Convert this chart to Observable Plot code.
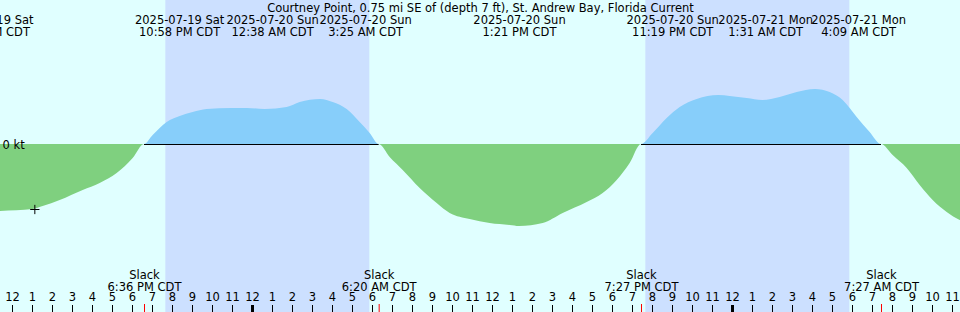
<!DOCTYPE html>
<html><head><meta charset="utf-8">
<script src="https://cdn.jsdelivr.net/npm/d3@7"></script>
<script src="https://cdn.jsdelivr.net/npm/@observablehq/plot@0.6"></script>
<style>html,body{margin:0;padding:0;background:#e0ffff;} #chart svg{display:block}</style>
</head><body><div id="chart"></div>
<script>
const title = "Courtney Point, 0.75 mi SE of (depth 7 ft), St. Andrew Bay, Florida Current";

// current speed (kt), positive = flood, negative = ebb; times CDT
const curveTimes = [
  "2025-07-19T10:30","2025-07-19T10:49","2025-07-19T11:22","2025-07-19T13:02","2025-07-19T13:32","2025-07-19T14:23",
  "2025-07-19T15:32","2025-07-19T16:23","2025-07-19T17:14","2025-07-19T18:02","2025-07-19T18:36",
  "2025-07-19T19:02","2025-07-19T19:44","2025-07-19T20:23","2025-07-19T21:02","2025-07-19T21:44","2025-07-19T22:58",
  "2025-07-19T23:44","2025-07-20T00:38","2025-07-20T01:44","2025-07-20T02:23","2025-07-20T03:25","2025-07-20T04:02",
  "2025-07-20T04:44","2025-07-20T05:23","2025-07-20T05:53","2025-07-20T06:20",
  "2025-07-20T06:53","2025-07-20T07:32","2025-07-20T08:23","2025-07-20T09:14","2025-07-20T09:53","2025-07-20T10:53",
  "2025-07-20T11:53","2025-07-20T12:53","2025-07-20T13:21","2025-07-20T14:32","2025-07-20T15:32","2025-07-20T16:44",
  "2025-07-20T17:32","2025-07-20T18:14","2025-07-20T18:53","2025-07-20T19:27",
  "2025-07-20T20:02","2025-07-20T20:44","2025-07-20T21:23","2025-07-20T22:14","2025-07-20T23:19","2025-07-20T23:53",
  "2025-07-21T00:44","2025-07-21T01:31","2025-07-21T02:23","2025-07-21T03:14","2025-07-21T04:09","2025-07-21T04:53",
  "2025-07-21T05:32","2025-07-21T06:14","2025-07-21T06:53","2025-07-21T07:27",
  "2025-07-21T08:02","2025-07-21T08:44","2025-07-21T09:23","2025-07-21T10:02","2025-07-21T10:44","2025-07-21T11:23","2025-07-21T11:45"
];
const curveKnots = [
  -0.68,-0.68,-0.67,-0.65,-0.62,-0.56,
  -0.46,-0.39,-0.29,-0.14,0,
  0.09,0.22,0.28,0.32,0.35,0.36,
  0.36,0.35,0.37,0.42,0.45,0.42,
  0.35,0.22,0.11,0,
  -0.13,-0.26,-0.44,-0.59,-0.69,-0.75,
  -0.79,-0.81,-0.82,-0.79,-0.69,-0.58,
  -0.49,-0.36,-0.19,0,
  0.11,0.26,0.37,0.45,0.49,0.48,
  0.46,0.44,0.47,0.52,0.55,0.52,
  0.44,0.27,0.12,0,
  -0.11,-0.24,-0.41,-0.56,-0.68,-0.76,-0.79
];

// max flood / ebb events (top labels)
const eventTimes = ["2025-07-19T10:49","2025-07-19T22:58","2025-07-20T00:38","2025-07-20T03:25",
                    "2025-07-20T13:21","2025-07-20T23:19","2025-07-21T01:31","2025-07-21T04:09"];
const eventDates = ["2025-07-19 Sat","2025-07-19 Sat","2025-07-20 Sun","2025-07-20 Sun",
                    "2025-07-20 Sun","2025-07-20 Sun","2025-07-21 Mon","2025-07-21 Mon"];
const eventClock = ["10:49 AM CDT","10:58 PM CDT","12:38 AM CDT","3:25 AM CDT",
                    "1:21 PM CDT","11:19 PM CDT","1:31 AM CDT","4:09 AM CDT"];

// slack water
const slackTimes = ["2025-07-19T18:36","2025-07-20T06:20","2025-07-20T19:27","2025-07-21T07:27"];
const slackClock = ["6:36 PM CDT","6:20 AM CDT","7:27 PM CDT","7:27 AM CDT"];

// night (sunset -> sunrise)
const sunsetTimes = ["2025-07-19T19:40","2025-07-20T19:40"];
const sunriseTimes = ["2025-07-20T05:52","2025-07-21T05:52"];

// marker on the curve
const markerTime = ["2025-07-19T13:07"];
const markerKnots = [-0.65];

// hourly tick labels, starting 2025-07-19 12:00 (noon)
const tickLabels = ["12","1","2","3","4","5","6","7","8","9","10","11",
                    "12","1","2","3","4","5","6","7","8","9","10","11",
                    "12","1","2","3","4","5","6","7","8","9","10","11",
                    "12","1","2","3","4","5","6","7","8","9","10","11"];
const midnightTimes = ["2025-07-20T00:00","2025-07-21T00:00"];
const viewStart = "2025-07-19T11:24", viewEnd = "2025-07-21T11:24";

const T0 = Date.UTC(2025, 6, 19, 12);
const hrs = s => (Date.parse(s + ":00Z") - T0) / 3.6e6;

const curve = curveTimes.map((t, i) => ({h: hrs(t), v: curveKnots[i]}));
const nights = sunsetTimes.map((t, i) => ({a: hrs(t), b: hrs(sunriseTimes[i])}));
const slacks = slackTimes.map((t, i) => ({h: hrs(t), text: "Slack\n" + slackClock[i]}));
const marker = markerTime.map((t, i) => ({h: hrs(t), v: markerKnots[i]}));
const hourTicks = tickLabels.map((l, i) => ({h: i, label: l}));
const midnights = midnightTimes.map(hrs);

// flood intervals (between consecutive slacks where the current is positive)
const floods = [];
for (let i = 0; i + 1 < slacks.length; i++) {
  const a = slacks[i].h, b = slacks[i + 1].h;
  const mid = d3.mean(curve.filter(d => d.h > a && d.h < b), d => d.v);
  if (mid > 0) floods.push({a, b});
}

// label layout: spread clustered labels evenly around the cluster mean
const SP = 4.65;
const events = eventTimes.map((t, i) => ({h: hrs(t), text: eventDates[i] + "\n" + eventClock[i]}));
const clusters = [];
for (const e of events) {
  const last = clusters[clusters.length - 1];
  if (last && e.h - last[last.length - 1].h < SP) last.push(e); else clusters.push([e]);
}
for (const c of clusters) {
  const m = d3.mean(c, d => d.h);
  c.forEach((e, j) => e.lx = m + (j - (c.length - 1) / 2) * SP);
}

const blue = "#87cefa", green = "#7fd07f", night = "#cce0ff";
const fs = 11.5;

const chart = Plot.plot({
  width: 960, height: 312, margin: 0,
  x: {domain: [hrs(viewStart), hrs(viewEnd)], axis: null},
  y: {domain: [-1.68, 1.44], axis: null},
  style: {background: "#e0ffff", fontFamily: "DejaVu Sans", fontSize: fs + "px"},
  marks: [
    Plot.rect(nights, {x1: "a", x2: "b", fill: night}),
    Plot.areaY(curve, {x: "h", y1: 0, y2: d => Math.max(0, d.v), fill: blue, curve: "monotone-x"}),
    Plot.areaY(curve, {x: "h", y1: 0, y2: d => Math.min(0, d.v), fill: green, curve: "monotone-x"}),
    Plot.ruleY(floods, {y: 0, x1: "a", x2: "b", stroke: "black"}),
    Plot.dot(marker, {x: "h", y: "v", symbol: "plus", r: 3.1, stroke: "black", strokeWidth: 1}),
    Plot.text(["0 kt"], {y: [0], text: d => d, frameAnchor: "left", textAnchor: "start", lineAnchor: "bottom", dx: 2, dy: 4.5, fontSize: fs, fill: "black"}),
    Plot.ruleX(hourTicks, {x: "h", insetTop: 305, stroke: "black"}),
    Plot.ruleX(midnights, {x: d => d, insetTop: 305, stroke: "black", strokeWidth: 3}),
    Plot.ruleX(slacks, {x: "h", insetTop: 304, stroke: "red"}),
    Plot.text(hourTicks, {x: "h", text: "label", frameAnchor: "bottom", lineAnchor: "bottom", dy: -11.3, fontSize: fs, fill: "black"}),
    Plot.text(slacks, {x: "h", text: "text", frameAnchor: "bottom", lineAnchor: "bottom", dy: -22, lineHeight: 1.04, fontSize: fs, fill: "black"}),
    Plot.text(events, {x: "lx", text: "text", frameAnchor: "top", lineAnchor: "bottom", dy: 35, lineHeight: 1.02, fontSize: fs, fill: "black"}),
    Plot.text([title], {text: d => d, frameAnchor: "top", lineAnchor: "bottom", dy: 11.7, fontSize: fs, fill: "black"})
  ]
});
document.getElementById("chart").append(chart);
</script>
</body></html>
